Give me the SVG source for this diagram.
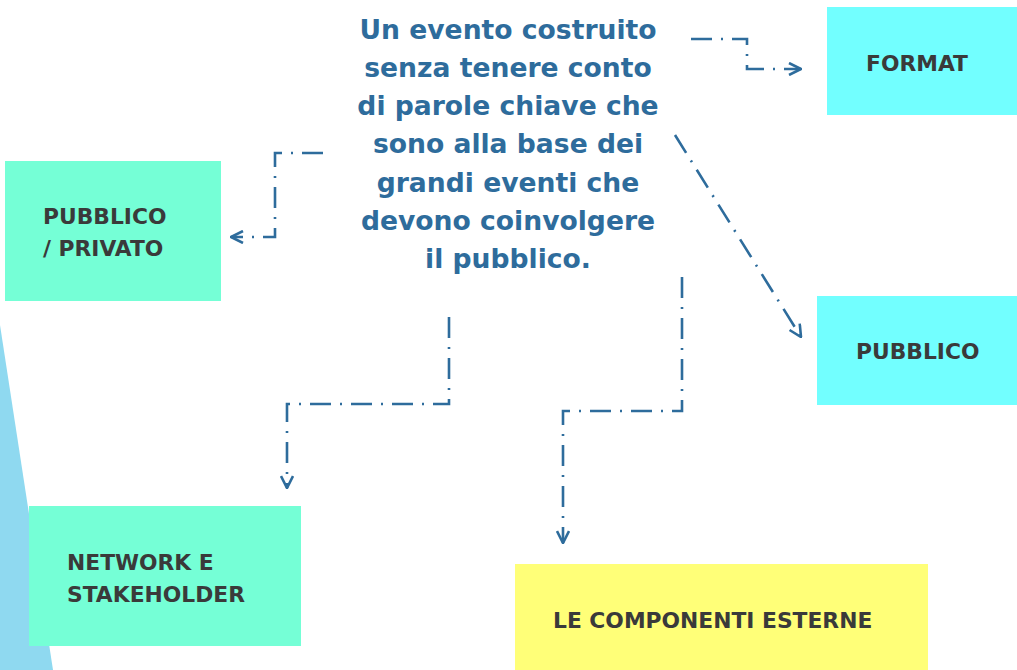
<svg xmlns="http://www.w3.org/2000/svg" width="1017" height="670" viewBox="0 0 1017 670">
<defs>
<style>
.box-cyan{fill:#72FFFF}
.box-aqua{fill:#75FFD6}
.box-yellow{fill:#FFFF78}
.lbl{font-family:"DejaVu Sans","Liberation Sans",sans-serif;font-weight:bold;font-size:21.8px;fill:#3A3A3A}
.main{font-family:"DejaVu Sans","Liberation Sans",sans-serif;font-weight:bold;font-size:26.6px;fill:#2E6C9C;text-anchor:middle}
.conn{fill:none;stroke:#2E6C9C;stroke-width:2.6;stroke-dasharray:21 9 2 9}
</style>
<marker id="arr" viewBox="0 0 14 14" refX="13" refY="7" markerWidth="14" markerHeight="14" markerUnits="userSpaceOnUse" orient="auto">
<path d="M1,1 L13,7 L1,13" fill="none" stroke="#2E6C9C" stroke-width="2.6"/>
</marker>
</defs>
<polygon points="0,325 53,670 0,670" fill="#8FD9F0"/>
<g id="main-text">
<text class="main" x="508" y="39">Un evento costruito</text>
<text class="main" x="508" y="77">senza tenere conto</text>
<text class="main" x="508" y="115">di parole chiave che</text>
<text class="main" x="508" y="153">sono alla base dei</text>
<text class="main" x="508" y="192">grandi eventi che</text>
<text class="main" x="508" y="230">devono coinvolgere</text>
<text class="main" x="508" y="268">il pubblico.</text>
</g>
<g id="node-format">
<rect class="box-cyan" x="827" y="7" width="190" height="108"/>
<text class="lbl" x="866" y="71">FORMAT</text>
</g>
<g id="node-pubblico-privato">
<rect class="box-aqua" x="5" y="161" width="216" height="140"/>
<text class="lbl" x="43" y="224">PUBBLICO</text>
<text class="lbl" x="43" y="256">/ PRIVATO</text>
</g>
<g id="node-pubblico">
<rect class="box-cyan" x="817" y="296" width="200" height="109"/>
<text class="lbl" x="856" y="359">PUBBLICO</text>
</g>
<g id="node-network">
<rect class="box-aqua" x="29" y="506" width="272" height="140"/>
<text class="lbl" x="67" y="570">NETWORK E</text>
<text class="lbl" x="67" y="602">STAKEHOLDER</text>
</g>
<g id="node-componenti">
<rect class="box-yellow" x="515" y="564" width="413" height="106"/>
<text class="lbl" x="553" y="628">LE COMPONENTI ESTERNE</text>
</g>
<g id="connectors">
<polyline class="conn" points="323,153 275,153 275,237 231,237" marker-end="url(#arr)"/>
<polyline class="conn" points="691,39 747,39 747,69 801,69" marker-end="url(#arr)"/>
<polyline class="conn" points="675,135 801,337" marker-end="url(#arr)"/>
<polyline class="conn" points="449,317 449,404 287,404 287,488" marker-end="url(#arr)"/>
<polyline class="conn" points="682,277 682,411 563,411 563,543" marker-end="url(#arr)"/>
</g>
</svg>
